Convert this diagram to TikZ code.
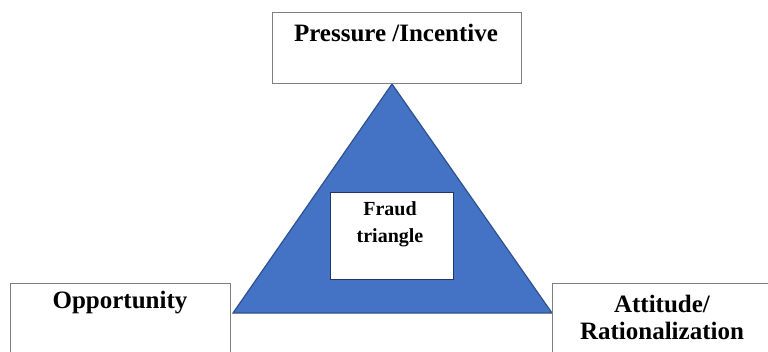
\documentclass[tikz,border=0pt]{standalone}
\usepackage{fontspec}
\setmainfont{Liberation Serif}
\definecolor{triblue}{HTML}{4472C4}
\definecolor{triedge}{HTML}{2F528F}
\definecolor{boxgray}{HTML}{7F7F7F}
\definecolor{fraudedge}{HTML}{1F3864}
\begin{document}
\begin{tikzpicture}[x=1pt,y=-1pt,
  outerbox/.style={draw=boxgray,line width=1pt,fill=white},
  lbl/.style={font=\bfseries\fontsize{25}{28}\selectfont,anchor=base,inner sep=0pt},
  flbl/.style={font=\bfseries\fontsize{20}{27}\selectfont,anchor=base,inner sep=0pt}]
\useasboundingbox (0,0) rectangle (768,351);
\clip (0,0) rectangle (768,351);
% triangle
\coordinate (apex) at (392,84);
\coordinate (bl) at (233,313);
\coordinate (br) at (552,313);
\filldraw[fill=triblue,draw=triedge,line width=1.2pt,line join=miter] (apex) -- (bl) -- (br) -- cycle;
% boxes
\node[outerbox,minimum width=249pt,minimum height=71pt,inner sep=0pt] (top) at (396.5,47.5) {};
\node[outerbox,minimum width=220pt,minimum height=100pt,inner sep=0pt,anchor=north west] (left) at (10,283) {};
\node[outerbox,minimum width=230pt,minimum height=100pt,inner sep=0pt,anchor=north west] (right) at (552,283) {};
\node[draw=fraudedge,fill=white,line width=1pt,minimum width=123pt,minimum height=87pt,inner sep=0pt,anchor=north west] (fraud) at (330,192) {};
% labels
\node[lbl] (ptext) at (396,41) {Pressure /Incentive};
\node[lbl] (otext) at (120,308) {Opportunity};
\node[lbl] (atext1) at (662,312) {Attitude/};
\node[lbl] (atext2) at (662,339) {Rationalization};
\node[flbl] (ftext1) at (390,215) {Fraud};
\node[flbl] (ftext2) at (390,242) {triangle};
\end{tikzpicture}
\end{document}
